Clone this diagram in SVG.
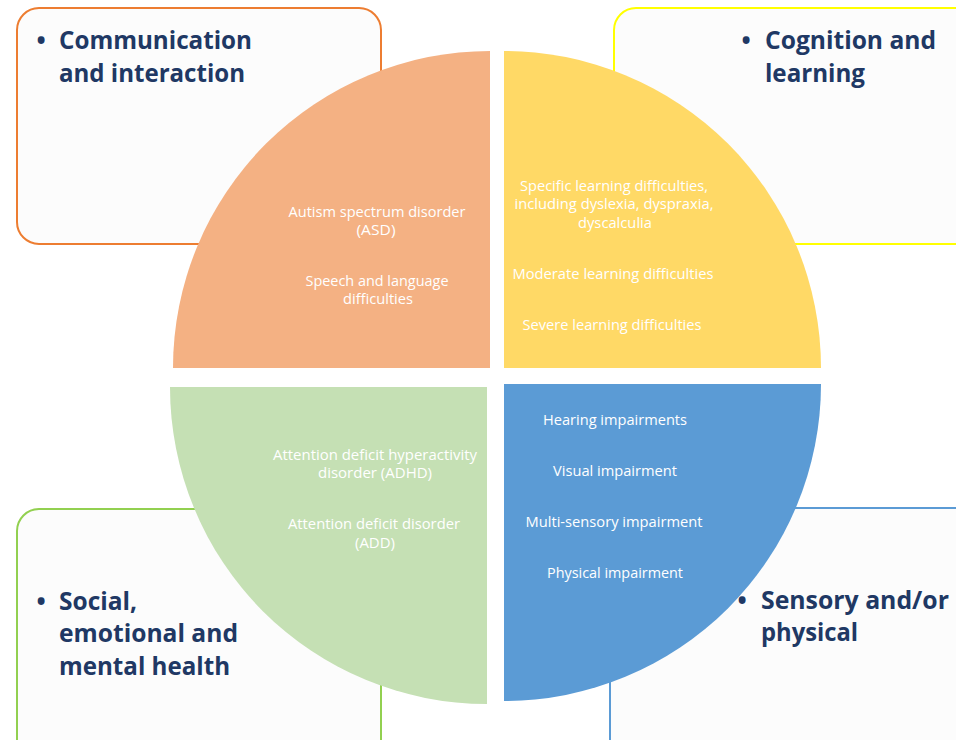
<svg xmlns="http://www.w3.org/2000/svg" width="956" height="740" viewBox="0 0 956 740">
<style>
.box{fill:#FCFCFC;stroke-width:2}
.hd{font-family:"Open Sans","Noto Sans",sans-serif;font-weight:700;font-size:24.5px;fill:#203864}
.bul{font-family:"Open Sans","Noto Sans",sans-serif;font-weight:700;font-size:24.5px;fill:#203864;text-anchor:middle}
.it{font-family:"Open Sans","Noto Sans",sans-serif;font-size:14.5px;fill:#FFFFFF;text-anchor:middle}
</style>
<rect width="956" height="740" fill="#FFFFFF"/>
<g id="box-communication">
<rect class="box" x="17" y="8" width="364" height="236" rx="22" stroke="#ED7D31"/>
<text class="bul" x="41" y="49">•</text>
<text class="hd" x="59" y="49" textLength="193" lengthAdjust="spacingAndGlyphs">Communication</text>
<text class="hd" x="59" y="82" textLength="186" lengthAdjust="spacingAndGlyphs">and interaction</text>
</g>
<g id="box-cognition">
<rect class="box" x="614" y="8" width="380" height="236" rx="22" stroke="#FFFF00"/>
<text class="bul" x="746" y="49">•</text>
<text class="hd" x="765" y="49" textLength="171" lengthAdjust="spacingAndGlyphs">Cognition and</text>
<text class="hd" x="765" y="82" textLength="100" lengthAdjust="spacingAndGlyphs">learning</text>
</g>
<g id="box-social">
<rect class="box" x="17" y="509" width="364" height="260" rx="22" stroke="#92D050"/>
<text class="bul" x="41" y="610">•</text>
<text class="hd" x="59" y="610" textLength="78" lengthAdjust="spacingAndGlyphs">Social,</text>
<text class="hd" x="59" y="642" textLength="179" lengthAdjust="spacingAndGlyphs">emotional and</text>
<text class="hd" x="59" y="675" textLength="171" lengthAdjust="spacingAndGlyphs">mental health</text>
</g>
<g id="box-sensory">
<rect class="box" x="610" y="508" width="380" height="260" rx="22" stroke="#5B9BD5"/>
<text class="bul" x="742" y="609">•</text>
<text class="hd" x="761" y="609" textLength="188" lengthAdjust="spacingAndGlyphs">Sensory and/or</text>
<text class="hd" x="761" y="641" textLength="97" lengthAdjust="spacingAndGlyphs">physical</text>
</g>
<g id="quadrant-communication">
<path d="M490,368 L173,368 A317,317 0 0 1 490,51 Z" fill="#F4B183"/>
<text class="it" x="377" y="217" textLength="177" lengthAdjust="spacingAndGlyphs">Autism spectrum disorder</text>
<text class="it" x="376" y="235" textLength="39" lengthAdjust="spacingAndGlyphs">(ASD)</text>
<text class="it" x="377" y="286" textLength="143" lengthAdjust="spacingAndGlyphs">Speech and language</text>
<text class="it" x="378" y="304" textLength="70" lengthAdjust="spacingAndGlyphs">difficulties</text>
</g>
<g id="quadrant-cognition">
<path d="M504,368 L504,51 A317,317 0 0 1 821,368 Z" fill="#FFD966"/>
<text class="it" x="614" y="191" textLength="188" lengthAdjust="spacingAndGlyphs">Specific learning difficulties,</text>
<text class="it" x="614" y="209" textLength="199" lengthAdjust="spacingAndGlyphs">including dyslexia, dyspraxia,</text>
<text class="it" x="615" y="228" textLength="74" lengthAdjust="spacingAndGlyphs">dyscalculia</text>
<text class="it" x="613" y="279" textLength="201" lengthAdjust="spacingAndGlyphs">Moderate learning difficulties</text>
<text class="it" x="612" y="330" textLength="179" lengthAdjust="spacingAndGlyphs">Severe learning difficulties</text>
</g>
<g id="quadrant-social">
<path d="M487,387 L487,704 A317,317 0 0 1 170,387 Z" fill="#C5E0B4"/>
<text class="it" x="375" y="460" textLength="204" lengthAdjust="spacingAndGlyphs">Attention deficit hyperactivity</text>
<text class="it" x="375" y="478" textLength="114" lengthAdjust="spacingAndGlyphs">disorder (ADHD)</text>
<text class="it" x="374" y="529" textLength="172" lengthAdjust="spacingAndGlyphs">Attention deficit disorder</text>
<text class="it" x="375" y="548" textLength="40" lengthAdjust="spacingAndGlyphs">(ADD)</text>
</g>
<g id="quadrant-sensory">
<path d="M504,384 L821,384 A317,317 0 0 1 504,701 Z" fill="#5B9BD5"/>
<text class="it" x="615" y="425" textLength="144" lengthAdjust="spacingAndGlyphs">Hearing impairments</text>
<text class="it" x="615" y="476" textLength="124" lengthAdjust="spacingAndGlyphs">Visual impairment</text>
<text class="it" x="614" y="527" textLength="177" lengthAdjust="spacingAndGlyphs">Multi-sensory impairment</text>
<text class="it" x="615" y="578" textLength="136" lengthAdjust="spacingAndGlyphs">Physical impairment</text>
</g>
<g id="connectors"></g>
</svg>
